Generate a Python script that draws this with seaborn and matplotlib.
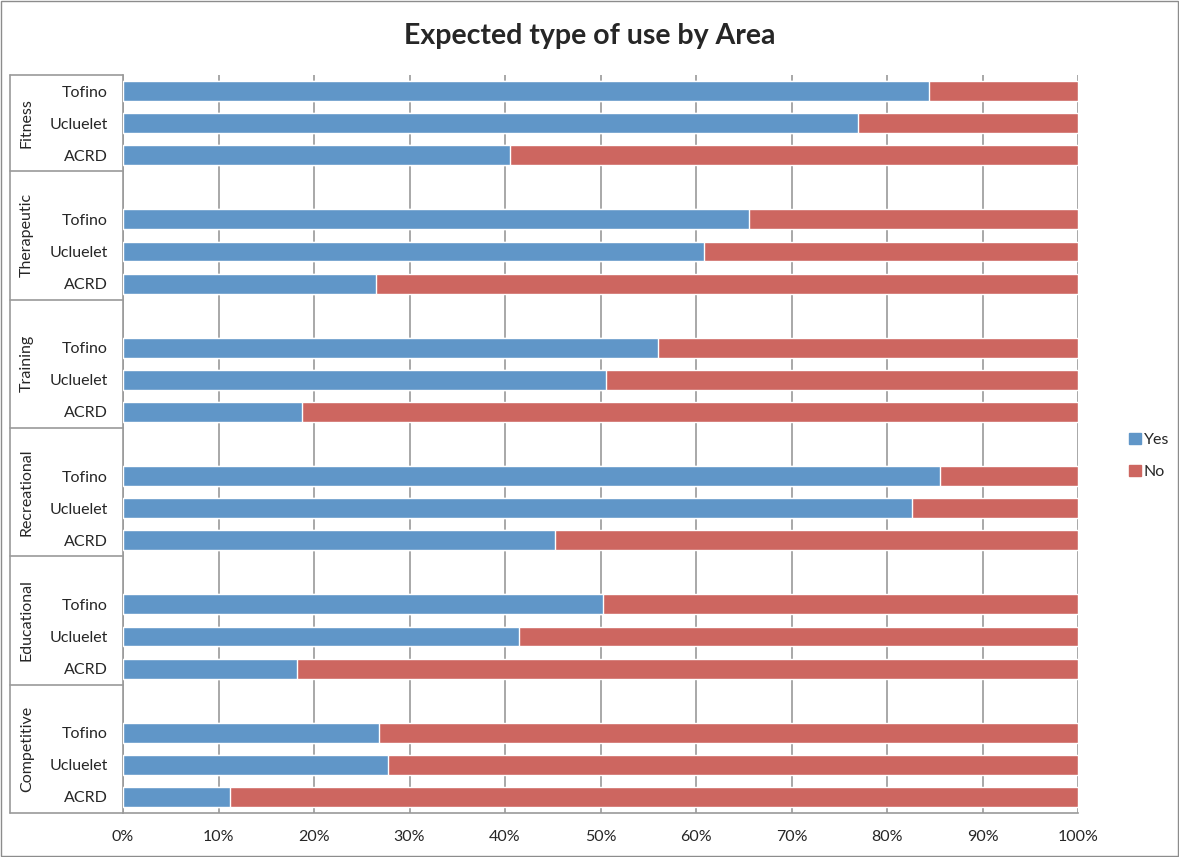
import pandas as pd
import seaborn as sns
import matplotlib.pyplot as plt
from matplotlib.patches import Patch, Rectangle

# values (% answering "Yes"), per use type, top to bottom
uses = ['Fitness', 'Therapeutic', 'Training', 'Recreational', 'Educational', 'Competitive']
areas = ['Tofino', 'Ucluelet', 'ACRD']
yes_fitness = [84.4, 77.0, 40.5]
yes_therapeutic = [65.5, 60.8, 26.5]
yes_training = [56.0, 50.6, 18.7]
yes_recreational = [85.6, 82.6, 45.2]
yes_educational = [50.3, 41.5, 18.2]
yes_competitive = [26.8, 27.7, 11.2]
x_ticks = [0, 10, 20, 30, 40, 50, 60, 70, 80, 90, 100]

BLUE = '#6096c8'
RED = '#cd6660'
GRID = '#9a9a9a'


def main():
    yes_all = [yes_fitness, yes_therapeutic, yes_training,
               yes_recreational, yes_educational, yes_competitive]
    rows = []
    order = []
    for gi, (use, vals) in enumerate(zip(uses, yes_all)):
        if gi > 0:
            order.append('gap%d' % gi)
        for area, v in zip(areas, vals):
            key = use + '|' + area
            order.append(key)
            rows.append({'key': key, 'use': use, 'area': area,
                         'Yes': v, 'No': 100 - v, 'Total': 100})
    df = pd.DataFrame(rows)

    sns.set_style('white')
    plt.rcParams['font.family'] = ['Lato', 'DejaVu Sans']

    fig = plt.figure(figsize=(11.79, 8.57), dpi=100)
    ax = fig.add_axes([123 / 1179, 1 - 813 / 857, 955 / 1179, 738 / 857])

    sns.barplot(data=df, x='Total', y='key', order=order, color=RED,
                width=0.62, saturation=1, ax=ax, zorder=3)
    sns.barplot(data=df, x='Yes', y='key', order=order, color=BLUE,
                width=0.62, saturation=1, ax=ax, zorder=4)

    ax.set_xlim(0, 100)
    ax.set_ylim(len(order) - 0.5, -0.5)
    ax.set_xticks(x_ticks, labels=['%d%%' % t for t in x_ticks])
    ax.xaxis.grid(True, color=GRID, linewidth=1.2, zorder=0)
    ax.set_axisbelow(True)

    pos = [order.index(k) for k in df['key']]
    ax.set_yticks(pos, labels=df['area'])
    ax.tick_params(axis='y', length=0, pad=11, labelsize=11.5)
    ax.tick_params(axis='x', length=0, pad=12, labelsize=11.5)
    ax.set_xlabel('')
    ax.set_ylabel('')

    for s in ['top', 'right']:
        ax.spines[s].set_visible(False)
    for s in ['left', 'bottom']:
        ax.spines[s].set_color(GRID)
        ax.spines[s].set_linewidth(1.2)

    # multi-level category axis: group labels and separators
    tr = ax.get_yaxis_transform()
    x0 = (10 - 123) / 955
    bounds = [-0.5]
    for gi in range(len(uses)):
        last = order.index(uses[gi] + '|ACRD')
        bounds.append(last + 0.5)
    for b in bounds:
        ax.plot([x0, 0], [b, b], color=GRID, lw=1.2, transform=tr, clip_on=False)
    ax.plot([x0, x0], [bounds[0], bounds[-1]], color=GRID, lw=1.2,
            transform=tr, clip_on=False)
    for gi, use in enumerate(uses):
        mid = (bounds[gi] + bounds[gi + 1]) / 2
        ax.text((27 - 123) / 955, mid, use, rotation=90, ha='center', va='center',
                fontsize=11.5, transform=tr)

    fig.suptitle('Expected type of use by Area', x=0.5, y=1 - 36 / 857, va='center',
                 fontsize=20.5, fontweight='bold')

    handles = [Patch(color=BLUE, label='Yes'), Patch(color=RED, label='No')]
    fig.legend(handles=handles, loc='center left', bbox_to_anchor=(1115 / 1179, 1 - 456 / 857),
               frameon=False, fontsize=11.5, handlelength=0.7, handleheight=0.7,
               handletextpad=0.2, labelspacing=1.1)

    fig.patches.append(Rectangle((0.001, 0.001), 0.998, 0.998, transform=fig.transFigure,
                                 fill=False, edgecolor='#8c8c8c', linewidth=1))

    fig.savefig('out.png', dpi=100)


if __name__ == '__main__':
    main()
